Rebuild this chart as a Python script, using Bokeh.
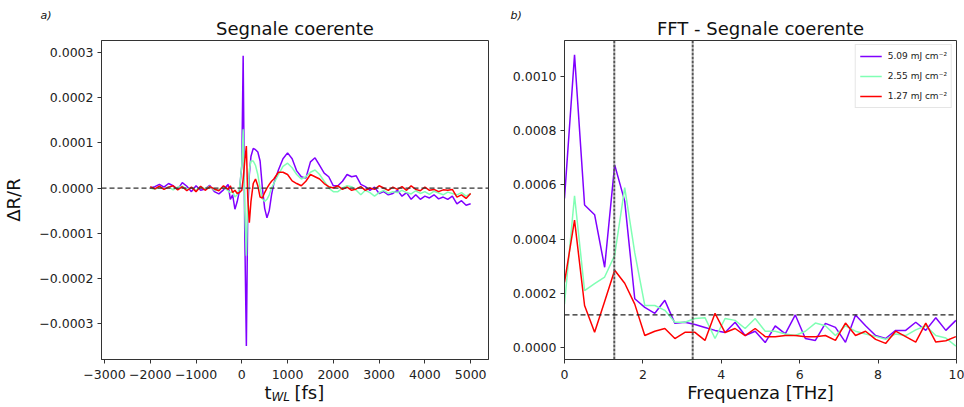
from bokeh.plotting import figure
from bokeh.layouts import row
from bokeh.models import Range1d, FixedTicker, CustomJSTickFormatter, Span, Title
from bokeh.embed import file_html
from bokeh.resources import INLINE
import numpy as np

FONT = "DejaVu Sans"

# ---------------- data: panel a) coherent signal (values in units of 1e-5) ----------------
t_fs = [-2000, -1900, -1800, -1700, -1600, -1500, -1400, -1300, -1200, -1100,
        -1000, -900, -800, -700, -600, -500, -400, -300,
        -250, -200, -150, -100, -50, 0, 30, 65, 100, 130, 165, 200, 250, 300,
        350, 400, 450, 500, 550, 600, 650,
        700, 800, 900, 1000, 1100, 1200, 1300, 1400, 1500, 1600, 1700, 1800,
        1900, 2000, 2100, 2200, 2300, 2400, 2500, 2600, 2700, 2800, 2900, 3000,
        3100, 3200, 3300, 3400, 3500, 3600, 3700, 3800, 3900, 4000, 4100, 4200,
        4300, 4400, 4500, 4600, 4700, 4800, 4900, 5000]

sig_509 = [0.0, 0.3, 0.8, 0.2, 1.0, 0.5, -0.3, 1.2, 0.4, -0.8, 0.5, -0.5, -0.2, 0.6, -0.8, -1.3, -0.4, 0.8,
           -2.5, -1.5, -4.7, -3.0, -0.5, 5.0, 29.3, -10.0, -35.0, -5.0, 3.0, 7.0, 8.8, 8.5, 8.0, 6.0, 0.0, -4.5,
           -6.6, -5.0, -1.5,
           1.0, 4.0, 6.5, 7.8, 6.5, 3.8, 2.5, 2.2, 5.8, 6.7, 5.0, 3.3, 2.5, 0.5, 0.5, 1.5, 3.0, 2.5, 2.7, 0.8,
           0.3, -0.5, 0.2, -1.2, -0.8, -1.5, -1.2, -0.5, -1.8, -1.0, -2.5, -1.5, -2.5, -1.8, -2.2, -1.5, -2.4,
           -2.0, -2.5, -1.8, -3.5, -2.8, -3.8, -3.5]

sig_255 = [0.0, -0.3, 0.2, -0.2, 0.3, -0.4, 0.2, 0.4, -0.3, 0.1, -0.5, 0.3, -0.2, 0.4, -0.5, -0.3, 0.2, -0.6,
           -1.0, -0.8, -2.0, -1.5, 0.0, 5.0, 13.0, -5.0, -15.0, -2.0, 4.0, 6.0, 6.0, 5.0, 3.0, 0.0, -2.4, -3.0,
           -2.5, -1.5, 0.0,
           1.0, 3.0, 4.8, 5.5, 4.5, 3.0, 2.0, 2.5, 3.5, 4.0, 3.0, 1.5, 0.0, -0.8, -0.8, 0.0, 0.5, 0.3, -0.5,
           -1.5, -0.5, -1.0, -1.8, -1.0, -0.5, -1.2, -0.8, -1.0, -0.5, -1.0, -1.3, -0.6, -1.2, -0.8, -1.4, -0.7,
           -1.1, -1.5, -0.9, -1.2, -1.5, -1.0, -1.8, -1.2]

sig_127 = [0.3, -0.2, 0.4, -0.3, 0.2, 0.5, -0.4, 0.3, -0.6, 0.2, -0.8, 0.4, -0.5, 0.3, -0.2, -0.6, 0.5, -0.3,
           0.5, -1.0, -0.5, -1.2, -1.0, -0.5, 2.0, 6.0, 9.3, -2.0, -7.7, -3.0, 1.0, 2.0, 0.5, -2.0, -2.2, -1.0,
           0.0, 0.8, 1.5,
           2.0, 3.5, 3.5, 3.0, 1.6, 1.0, 0.5, 1.5, 3.0, 2.5, 2.0, 1.0, 0.3, 0.0, 0.5, -0.3, 0.2, -0.5, -0.2,
           0.3, -0.5, 0.0, -0.3, 0.5, 0.0, -0.5, 0.2, -0.3, 0.3, -0.5, 0.5, -0.3, -0.6, 0.2, -0.5, -0.3,
           -0.8, -0.4, -0.5, -0.3, -2.0, -1.5, -2.3, -1.2]

# ---------------- data: panel b) FFT (values in units of 1e-5) ----------------
freq_thz = [0.000, 0.256, 0.512, 0.768, 1.024, 1.280, 1.536, 1.792, 2.048, 2.304,
            2.560, 2.816, 3.072, 3.328, 3.584, 3.840, 4.096, 4.352, 4.608, 4.864,
            5.120, 5.376, 5.632, 5.888, 6.144, 6.400, 6.656, 6.912, 7.168, 7.424,
            7.680, 7.936, 8.192, 8.448, 8.704, 8.960, 9.216, 9.472, 9.728, 9.984]

fft_509 = [55, 108, 52.6, 49, 29.6, 67.4, 54, 18, 14.8, 12.6, 17.4, 8.9, 9.3, 8.5, 7.4, 6.3, 5.5, 9.3, 4.4, 6,
           1.8, 8, 5, 12, 3.3, 2.6, 8.9, 7.4, 1.9, 12, 8, 4.4, 3.3, 6.3, 6.3, 9.3, 6.3, 11, 6.3, 10]
fft_255 = [16, 56, 21, 23.6, 26, 34, 59, 35, 15.5, 15.5, 13.7, 9.3, 9.3, 10.7, 11, 3.3, 10.7, 10, 7, 10.7,
           6, 6, 5, 4.4, 6, 9, 8, 4.4, 8, 6, 5, 4.1, 3, 5, 4.4, 6.5, 8, 4.4, 3.5, 0.5]
fft_127 = [24, 47, 15.5, 5.6, 17, 28.5, 23.7, 16, 4.4, 6, 7, 3.3, 5.6, 5.6, 2.6, 12.6, 5.5, 7, 4.4, 7,
           4, 4, 4.4, 4.4, 4, 4, 4.4, 2.6, 9, 4.4, 6, 3, 1.5, 6, 4, 2, 9, 2, 2.5, 4]

series_labels = ["5.09 mJ cm\u207b\u00b2", "2.55 mJ cm\u207b\u00b2", "1.27 mJ cm\u207b\u00b2"]
series_colors = ["#8000ff", "#80ffb4", "#ff0000"]
ref_freqs = [1.27, 3.27]
noise_level = 0.00012

SCALE = 1e-5

X_TICKS_A = [-3000, -2000, -1000, 0, 1000, 2000, 3000, 4000, 5000]
Y_TICKS_A = [-0.0003, -0.0002, -0.0001, 0.0, 0.0001, 0.0002, 0.0003]
X_TICKS_B = [0, 2, 4, 6, 8, 10]
Y_TICKS_B = [0.0, 0.0002, 0.0004, 0.0006, 0.0008, 0.0010]

AX = "#333333"
TXT = "#111111"
NBSP = "\u00a0"


def fmt(decimals):
    return CustomJSTickFormatter(code="return tick.toFixed(%d).replace('-', '\\u2212');" % decimals)


def style(p):
    p.xgrid.visible = False
    p.ygrid.visible = False
    p.outline_line_color = AX
    p.outline_line_width = 1
    p.background_fill_color = "white"
    p.border_fill_color = "white"
    for ax in p.axis:
        ax.axis_line_color = AX
        ax.major_tick_line_color = AX
        ax.major_tick_in = 0
        ax.major_tick_out = 4
        ax.minor_tick_in = 0
        ax.minor_tick_out = 0
        ax.major_label_text_font = FONT
        ax.major_label_text_font_size = "12.5px"
        ax.major_label_text_color = "#222222"
        ax.major_label_standoff = 4
        ax.axis_label_text_font = FONT
        ax.axis_label_text_font_size = "18px"
        ax.axis_label_text_font_style = "normal"
        ax.axis_label_text_color = TXT
    p.xaxis.major_label_standoff = 6


def title(p, side, text, size, align="left", offset=0, standoff=0, valign="bottom", style_="normal"):
    p.add_layout(Title(text=text, align=align, offset=offset, standoff=standoff,
                       vertical_align=valign, text_font=FONT, text_font_size=size,
                       text_font_style=style_, text_color=TXT), side)


H = 407
TOP = 40
BOT = 48

# ---------------- panel a ----------------
p1 = figure(width=509, height=H, output_backend="svg", toolbar_location=None,
            x_range=Range1d(-3065, 5390), y_range=Range1d(-0.00038, 0.000327),
            min_border_left=97, min_border_right=21, min_border_top=TOP, min_border_bottom=BOT)
style(p1)
p1.xaxis.ticker = FixedTicker(ticks=X_TICKS_A)
p1.yaxis.ticker = FixedTicker(ticks=Y_TICKS_A)
p1.xaxis.formatter = fmt(0)
p1.yaxis.formatter = fmt(4)
p1.yaxis.axis_label = "\u0394R/R"
p1.yaxis.axis_label_standoff = 12

t = np.array(t_fs, dtype=float)
for vals, col in zip([sig_509, sig_255, sig_127], series_colors):
    p1.line(t, np.array(vals) * SCALE, line_color=col, line_width=1.5)
p1.add_layout(Span(location=0, dimension="width", line_color="#333333",
                   line_width=1.3, line_dash="5 3"))

title(p1, "above", "Segnale coerente", "18px", align="center", standoff=3)
title(p1, "above", "a)", "11px", offset=-61, standoff=-15, style_="italic")
# x-axis label t_WL [fs] (subscript drawn as a second, smaller line pulled up)
title(p1, "below", "t" + NBSP * 4 + "[fs]", "18px", offset=163, standoff=0, valign="top")
title(p1, "below", "WL", "12px", offset=170, standoff=-30, valign="top", style_="italic")

# ---------------- panel b ----------------
p2 = figure(width=455, height=H, output_backend="svg", toolbar_location=None,
            x_range=Range1d(0, 10), y_range=Range1d(-0.0000444, 0.001133),
            min_border_left=55, min_border_right=8, min_border_top=TOP, min_border_bottom=BOT)
style(p2)
p2.xaxis.ticker = FixedTicker(ticks=X_TICKS_B)
p2.yaxis.ticker = FixedTicker(ticks=Y_TICKS_B)
p2.xaxis.formatter = fmt(0)
p2.yaxis.formatter = fmt(4)

f = np.array(freq_thz)
for vals, col, lab in zip([fft_509, fft_255, fft_127], series_colors, series_labels):
    p2.line(f, np.array(vals) * SCALE, line_color=col, line_width=1.5, legend_label=lab)

for fr in ref_freqs:
    p2.add_layout(Span(location=fr, dimension="height", line_color="#555555",
                       line_width=2, line_dash="3 1"))
p2.add_layout(Span(location=noise_level, dimension="width", line_color="#222222",
                   line_width=1.3, line_dash="5 3"))

title(p2, "above", "FFT - Segnale coerente", "18px", align="center", standoff=3)
title(p2, "above", "b)", "11px", offset=-54, standoff=-15, style_="italic")
title(p2, "below", "Frequenza [THz]", "18px", align="center", standoff=0, valign="top")

lg = p2.legend[0]
lg.location = "top_right"
lg.margin = 4
lg.padding = 4
lg.spacing = 6
lg.glyph_width = 22
lg.glyph_height = 14
lg.label_height = 14
lg.label_standoff = 6
lg.label_text_font = FONT
lg.label_text_font_size = "9px"
lg.label_text_color = "#222222"
lg.border_line_color = "#cccccc"
lg.border_line_width = 1
lg.background_fill_alpha = 0.8

layout = row(p1, p2)
open("out.html", "w").write(file_html(layout, INLINE))
